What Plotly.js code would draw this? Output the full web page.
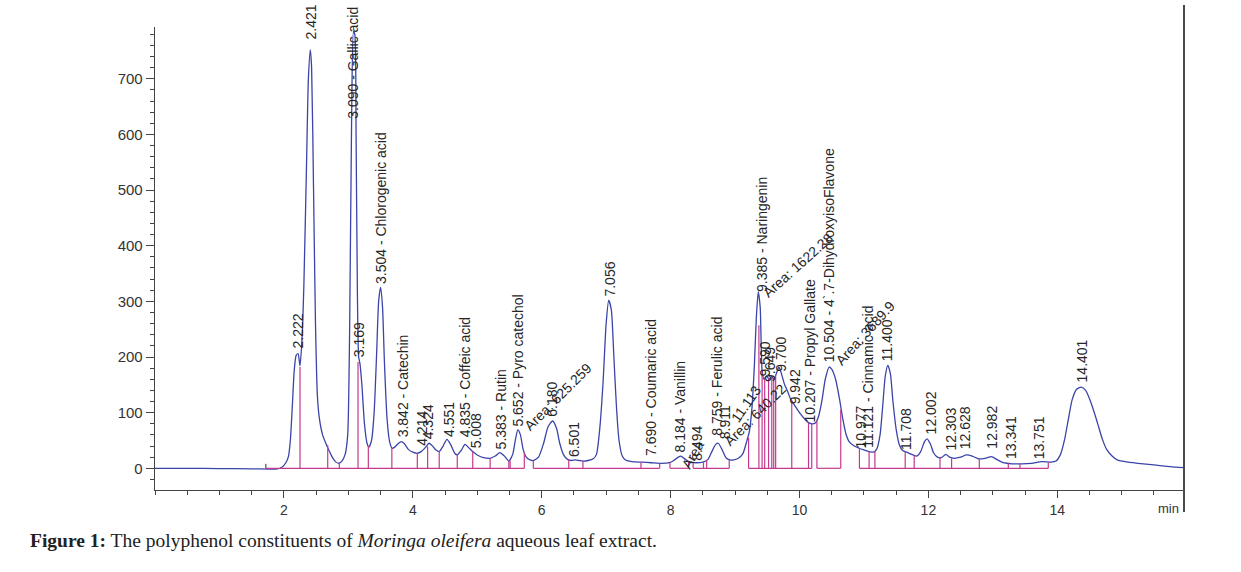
<!DOCTYPE html>
<html><head><meta charset="utf-8">
<script src="https://cdn.plot.ly/plotly-3.0.1.min.js"></script>
<style>html,body{margin:0;padding:0;background:#fff;}#chart{width:1241px;height:572px;}</style>
</head><body><div id="chart"></div>
<script>
// Chromatogram signal (retention time, min / response)
const signalTime = [0.00,0.50,1.00,1.50,1.90,1.97,2.03,2.07,2.10,2.13,2.16,2.19,2.22,2.25,2.28,2.31,2.35,2.38,2.41,2.43,2.46,2.49,2.52,2.55,2.60,2.65,2.70,2.75,2.80,2.85,2.90,2.95,2.99,3.02,3.05,3.08,3.10,3.12,3.14,3.16,3.18,3.21,3.25,3.29,3.32,3.36,3.40,3.44,3.47,3.50,3.53,3.56,3.60,3.64,3.68,3.72,3.77,3.82,3.87,3.93,4.00,4.07,4.13,4.20,4.25,4.29,4.35,4.41,4.47,4.53,4.59,4.65,4.69,4.75,4.81,4.86,4.93,5.00,5.10,5.20,5.28,5.35,5.42,5.49,5.55,5.59,5.63,5.67,5.71,5.76,5.82,5.87,5.95,6.03,6.10,6.17,6.23,6.28,6.34,6.40,6.46,6.52,6.58,6.65,6.72,6.80,6.85,6.90,6.95,7.00,7.04,7.08,7.12,7.16,7.20,7.25,7.30,7.40,7.55,7.70,7.85,7.98,8.05,8.12,8.16,8.22,8.30,8.40,8.50,8.58,8.64,8.70,8.74,8.80,8.86,8.92,8.98,9.05,9.12,9.18,9.22,9.26,9.30,9.33,9.36,9.39,9.42,9.45,9.49,9.53,9.57,9.60,9.64,9.68,9.72,9.77,9.81,9.86,9.93,10.00,10.07,10.14,10.20,10.25,10.30,10.35,10.40,10.46,10.50,10.56,10.62,10.67,10.72,10.77,10.85,10.93,11.00,11.08,11.15,11.20,11.25,11.29,11.33,11.37,11.41,11.45,11.50,11.55,11.60,11.68,11.76,11.82,11.88,11.94,11.98,12.03,12.08,12.14,12.20,12.27,12.33,12.40,12.50,12.59,12.68,12.78,12.88,12.98,13.06,13.16,13.30,13.45,13.60,13.76,13.90,13.98,14.05,14.11,14.17,14.23,14.30,14.37,14.44,14.51,14.58,14.64,14.70,14.77,14.85,14.93,15.10,15.25,15.50,15.75,15.97];
const signalValue = [0,0,-0.5,-1,-1,2,10,21,50,110,175,203,206,184,230,330,540,700,752,720,500,260,130,90,60,45,32,20,12,9,13,25,60,250,620,785,780,600,320,200,188,150,80,45,38,50,100,210,300,325,290,190,90,48,36,38,44,48,44,34,29,27,30,38,45,42,34,30,40,52,42,27,24,32,43,38,30,24,19,18,22,28,22,13,25,50,69,60,35,20,15,14,20,45,75,85,72,45,24,16,14,15,14,13,14,17,25,70,150,260,302,285,200,110,50,22,15,12,11,10,9,10,14,20,22,17,11,10,11,16,30,43,45,33,19,15,15,18,26,48,65,105,185,270,317,290,175,160,166,160,165,160,170,182,170,150,140,125,112,100,90,82,80,82,95,123,160,182,178,160,125,90,62,48,40,36,33,30,29,35,60,110,165,185,170,120,70,42,32,28,24,22,30,48,53,44,28,20,19,25,20,18,20,24,22,17,18,21,16,10,8,8,9,12,11,13,25,50,87,123,142,146,140,122,98,75,52,33,22,15,11,9,6,3,1];

// Integration drop lines (time, height) and baseline segments
const dropTime = [2.25,2.68,2.86,3.15,3.31,3.675,4.07,4.23,4.41,4.69,4.93,5.20,5.49,5.51,5.73,5.87,6.42,6.64,7.54,7.83,7.99,8.28,8.35,8.51,8.56,8.91,9.21,9.37,9.42,9.46,9.52,9.57,9.60,9.63,9.88,10.14,10.19,10.27,10.64,10.93,11.08,11.17,11.64,11.78,12.18,12.36,12.79,13.24,13.42,13.86];
const dropHeight = [182,42,11,191,40,37,27,39,30,24,30,18,13,14,28,14,16,13,11,9,10,12,11,11,15,15,55,257,172,160,162,165,160,168,122,82,80,85,105,36,30,30,30,23,19,18,17,9,8,11];
const baseStart = [1.72,5.87,7.99,8.35,9.21,10.27,10.93];
const baseEnd   = [5.73,7.83,8.28,8.91,10.19,10.64,13.86];
const eventTime = [1.72];

// Peak labels
const peakText = ["2.222","2.421","3.090 - Gallic acid","3.169","3.504 - Chlorogenic acid","3.842 - Catechin","4.214","4.324","4.551","4.835 - Coffeic acid","5.008","5.383 - Rutin","5.652 - Pyro catechol","6.180","6.501","7.056","7.690 - Coumaric acid","8.184 - Vanillin","8.494","8.759 - Ferulic acid","8.911","9.385 - Naringenin","9.590","9.649","9.700","9.942","10.207 - Propyl Gallate","10.504 - 4`.7-DihydroxyisoFlavone","10.977","11.121 - Cinnamic acid","11.400","11.708","12.002","12.303","12.628","12.982","13.341","13.751","14.401"];
const peakTime = [2.222,2.421,3.07,3.16,3.504,3.842,4.13,4.25,4.55,4.81,4.98,5.36,5.64,6.16,6.49,7.045,7.685,8.15,8.41,8.72,8.85,9.41,9.47,9.54,9.70,9.93,10.16,10.46,10.955,11.07,11.36,11.65,12.04,12.35,12.58,12.99,13.29,13.73,14.38];
const peakBase = [213,768,626,198,329,54,38,51,54,54,35,33,74,90,18,306,20,27,11,56,51,315,163,154,171,114,81,189,33,36,191,31,60,31,33,33,15,15,153];

// Slanted area labels
const areaText = ["Area: 625.259","Area","Area: 640.22","11.113","Area: 1622.28","Area: 3689.9"];
const areaTime = [6.25,8.34,9.31,9.17,9.98,11.02];
const areaValue = [128,24,96,115,365,243];
const areaAngle = [-45,-60,-45,-55,-42,-48];

const xTickValues = [2,4,6,8,10,12,14];
const yTickValues = [0,100,200,300,400,500,600,700];

const BLUE = '#3b44a8', MAG = '#c23a8f', AX = '#444';
const dropX = [], dropY = [];
dropTime.forEach((t,i)=>{dropX.push(t,t,null);dropY.push(0,dropHeight[i],null);});
const baseX = [], baseY = [];
baseStart.forEach((s,i)=>{baseX.push(s,baseEnd[i],null);baseY.push(0,0,null);});
const evX = [], evY = [];
eventTime.forEach(t=>{evX.push(t,t,null);evY.push(0,8,null);});

const traces = [
  {x:signalTime,y:signalValue,type:'scatter',mode:'lines',line:{color:BLUE,width:1.3,shape:'spline',smoothing:0.6},hoverinfo:'skip'},
  {x:dropX,y:dropY,type:'scatter',mode:'lines',line:{color:MAG,width:1.2},hoverinfo:'skip'},
  {x:baseX,y:baseY,type:'scatter',mode:'lines',line:{color:MAG,width:1.2},hoverinfo:'skip'},
  {x:evX,y:evY,type:'scatter',mode:'lines',line:{color:'#333',width:1},hoverinfo:'skip'}
];

const LF = {family:'"Liberation Sans", Arial, sans-serif', size:14, color:'#262626'};
const ann = [];
peakText.forEach((s,i)=>ann.push({x:peakTime[i],y:peakBase[i],xref:'x',yref:'y',text:s,showarrow:false,textangle:-90,xanchor:'center',yanchor:'bottom',borderpad:0,font:LF}));
areaText.forEach((s,i)=>ann.push({x:areaTime[i],y:areaValue[i],xref:'x',yref:'y',text:s,showarrow:false,textangle:areaAngle[i],xanchor:'center',yanchor:'middle',borderpad:0,font:LF}));
ann.push({x:0.985,y:-0.039,xref:'paper',yref:'paper',text:'min',showarrow:false,xanchor:'center',yanchor:'middle',font:{family:'"Liberation Sans", Arial, sans-serif',size:13,color:'#333'}});
ann.push({x:-0.1233,y:-0.108,xref:'paper',yref:'paper',text:'<b>Figure 1:</b> The polyphenol constituents of <i>Moringa oleifera</i> aqueous leaf extract.',showarrow:false,xanchor:'left',yanchor:'middle',font:{family:'"Liberation Serif", "Times New Roman", serif',size:19.5,color:'#222'}});

const layout = {
  width:1241,height:572,
  margin:{l:155,r:57,t:27,b:82},
  paper_bgcolor:'#fff',plot_bgcolor:'#fff',
  showlegend:false,
  font:{family:'"Liberation Sans", Arial, sans-serif',size:14,color:'#333'},
  xaxis:{range:[0,15.966],showgrid:false,zeroline:false,showline:true,linecolor:AX,linewidth:1.3,
    tickmode:'array',tickvals:xTickValues,ticks:'outside',ticklen:7,tickcolor:AX,tickwidth:1,
    minor:{tickmode:'linear',tick0:0,dtick:0.5,ticks:'outside',ticklen:4,tickcolor:AX},
    tickfont:{size:14,color:'#333'}},
  yaxis:{range:[-39,793],showgrid:false,zeroline:false,showline:true,linecolor:AX,linewidth:1.3,
    tickmode:'array',tickvals:yTickValues,ticks:'outside',ticklen:8,tickcolor:AX,tickwidth:1,
    minor:{tickmode:'linear',tick0:0,dtick:20,ticks:'outside',ticklen:4,tickcolor:AX},
    tickfont:{size:15,color:'#333'}},
  shapes:[{type:'line',xref:'paper',yref:'paper',x0:1,x1:1,y0:-0.0475,y1:1.0475,line:{color:'#4a4a4a',width:2}}],
  annotations:ann
};
Plotly.newPlot('chart',traces,layout,{displayModeBar:false,staticPlot:true});
</script></body></html>
